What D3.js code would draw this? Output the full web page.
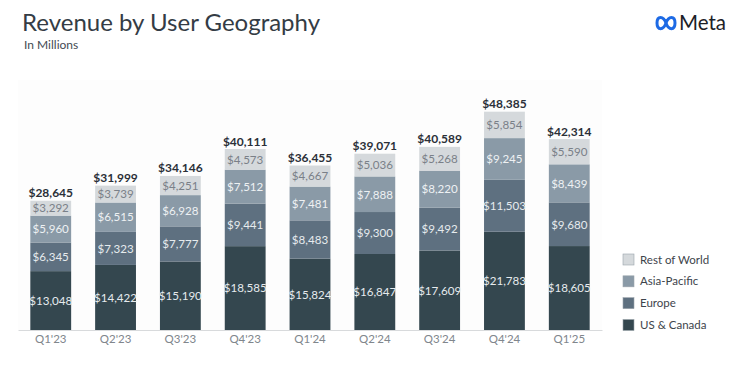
<!DOCTYPE html>
<html><head><meta charset="utf-8">
<script src="https://cdn.jsdelivr.net/npm/d3@7"></script>
<style>body{margin:0;background:#fff}svg{display:block}</style>
</head><body>
<svg id="c" width="740" height="381"></svg>
<script>
const quarters = ["Q1'23","Q2'23","Q3'23","Q4'23","Q1'24","Q2'24","Q3'24","Q4'24","Q1'25"];
const usCanada = [13048,14422,15190,18585,15824,16847,17609,21783,18605];
const europe = [6345,7323,7777,9441,8483,9300,9492,11503,9680];
const asiaPacific = [5960,6515,6928,7512,7481,7888,8220,9245,8439];
const restOfWorld = [3292,3739,4251,4573,4667,5036,5268,5854,5590];
const totals = [28645,31999,34146,40111,36455,39071,40589,48385,42314];
const seriesNames = ["US & Canada","Europe","Asia-Pacific","Rest of World"];
const seriesColors = ["#34474f","#5e7080","#8a9aa7","#d5d9dc"];
const labelColors = ["#e6ebee","#e6ebee","#eef1f3","#7a8088"];

const svg = d3.select("#c");
const font = "Lato, 'Open Sans', sans-serif";

// faint plot background
svg.append("rect").attr("x",18).attr("y",80).attr("width",584).attr("height",250).attr("fill","#fdfdfd");

const x = d3.scaleBand().domain(quarters).range([18,602]).paddingInner(0.37).paddingOuter(0.19);
const y = d3.scaleLinear().domain([0,48385]).range([330,111.7]);

const rows = quarters.map((q,i)=>({q, "US & Canada":usCanada[i], "Europe":europe[i], "Asia-Pacific":asiaPacific[i], "Rest of World":restOfWorld[i]}));
const stack = d3.stack().keys(seriesNames)(rows);

stack.forEach((s,si)=>{
  const g = svg.append("g");
  g.selectAll("rect").data(s).enter().append("rect")
    .attr("x",d=>x(d.data.q)).attr("width",x.bandwidth())
    .attr("y",d=>y(d[1])).attr("height",d=>y(d[0])-y(d[1]))
    .attr("fill",seriesColors[si]);
  g.selectAll("text").data(s).enter().append("text")
    .attr("x",d=>x(d.data.q)+x.bandwidth()/2)
    .attr("y",d=>(y(d[0])+y(d[1]))/2+4.3)
    .attr("text-anchor","middle").attr("font-family",font).attr("font-size",11.6)
    .attr("fill",labelColors[si])
    .text(d=>"$"+d3.format(",")(d.data[seriesNames[si]]));
});

// totals
svg.selectAll("text.tot").data(quarters).enter().append("text").attr("class","tot")
  .attr("x",q=>x(q)+x.bandwidth()/2).attr("y",(q,i)=>y(totals[i])-3.5)
  .attr("text-anchor","middle").attr("font-family",font).attr("font-size",12).attr("font-weight",700)
  .attr("fill","#2b3038").text((q,i)=>"$"+d3.format(",")(totals[i]));

// axis
const ax = svg.append("g").attr("transform","translate(0,330)").call(d3.axisBottom(x).tickSize(0).tickPadding(5));
ax.select(".domain").attr("stroke","#d8dadc");
ax.selectAll("text").attr("font-family",font).attr("font-size",11.5).attr("fill","#80868c");

// title
svg.append("text").attr("x",22).attr("y",31).attr("font-family",font).attr("font-size",24)
  .attr("fill","#343c45").text("Revenue by User Geography");
svg.append("text").attr("x",24).attr("y",49).attr("font-family",font).attr("font-size",12)
  .attr("fill","#444b52").text("In Millions");

// Meta logo
const lg = svg.append("g").attr("transform","translate(655,23)");
lg.append("path").attr("d","M2,0 C2,-7.5 8.5,-7.5 11,0 C13.5,7.5 20,7.5 20,0 C20,-7.5 13.5,-7.5 11,0 C8.5,7.5 2,7.5 2,0 Z")
  .attr("fill","none").attr("stroke","#1d6ae5").attr("stroke-width",3);
svg.append("text").attr("x",679).attr("y",30).attr("font-family",font).attr("font-size",20.5)
  .attr("fill","#1c2127").text("Meta");

// legend
const legend = ["Rest of World","Asia-Pacific","Europe","US & Canada"];
const legCol = [seriesColors[3],seriesColors[2],seriesColors[1],seriesColors[0]];
const lgY = d3.scalePoint().domain(legend).range([259.5,325]);
legend.forEach((n,i)=>{
  svg.append("rect").attr("x",623).attr("y",lgY(n)-5.5).attr("width",11).attr("height",11)
    .attr("fill",legCol[i]).attr("stroke","#9aa3ab").attr("stroke-width",0.6);
  svg.append("text").attr("x",640).attr("y",lgY(n)+4).attr("font-family",font).attr("font-size",11.5)
    .attr("fill","#3d444b").text(n);
});
</script>
</body></html>
